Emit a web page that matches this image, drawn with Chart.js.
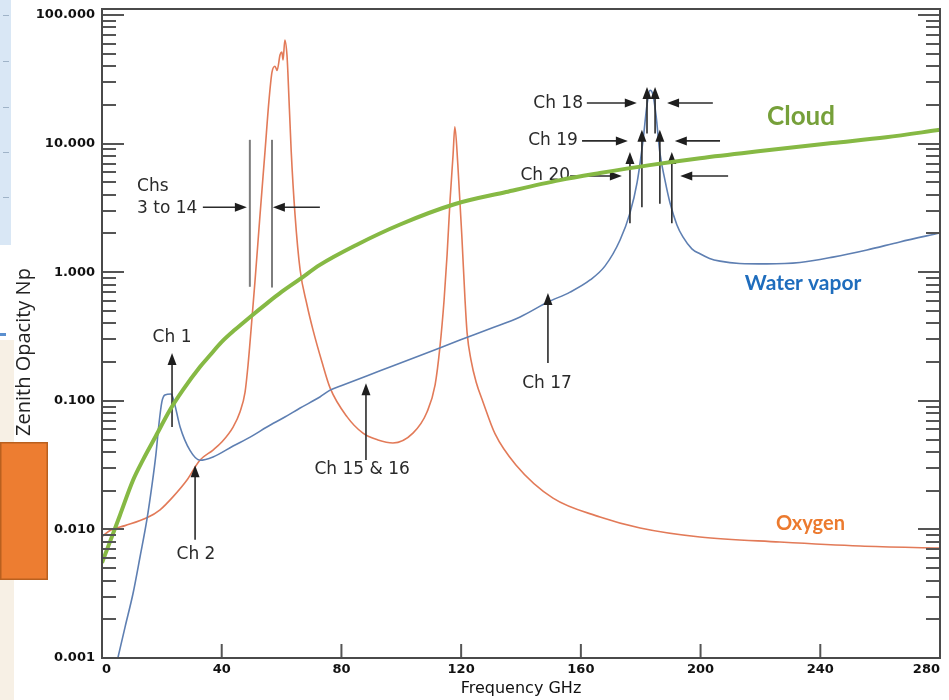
<!DOCTYPE html>
<html><head><meta charset="utf-8">
<script src="https://cdn.jsdelivr.net/npm/chart.js@4/dist/chart.umd.min.js"></script>
<style>html,body{margin:0;padding:0;background:#fff;}#wrap{width:949px;height:700px;}</style>
</head><body><div id="wrap"><canvas id="c" width="949" height="700"></canvas></div>
<script>
// ---------------- data (GHz, Np) ----------------
const oxygenFreq = [0,3,7.7,15,19.4,23.7,28.4,32.7,37.1,40.1,43.8,46.1,47.8,48.8,49.8,51.1,52.8,54.5,55.8,56.8,57.8,58.5,59.5,60.1,60.5,61.1,61.8,62.1,63.2,64.5,66.2,68.5,70.5,73.5,76.2,81.9,87.2,92.2,97.2,103.9,108.6,111.3,112.9,114.3,115.3,116.3,117.3,117.9,118.9,120.3,121.3,122,123.3,125,127.3,131.3,138.3,150.7,166.4,179.8,199.8,226.5,253.3,280];
const oxygenVal  = [0.0088,0.0099,0.0107,0.0123,0.0142,0.0179,0.0242,0.0345,0.0414,0.048,0.0625,0.0818,0.117,0.19,0.356,0.84,2.79,8.9,21.8,36,40,37,49,51.5,44.7,64,49,36,8.9,2.79,1.04,0.556,0.356,0.2,0.126,0.075,0.056,0.0496,0.047,0.056,0.0818,0.133,0.26,0.608,1.36,3.64,8.15,13.5,6.82,1.78,0.608,0.336,0.207,0.14,0.098,0.0555,0.0317,0.0175,0.0125,0.01026,0.00873,0.00798,0.00743,0.00716];

const vaporFreq = [5.3,7.7,10.4,12.7,15,16.7,18,19,20,21,23.1,24.1,26.1,29.4,32.7,37.1,43.8,49.5,55.1,61.1,66.2,72.8,76.2,79.9,92.9,106.3,119.6,129.6,139.7,149,156.4,163.1,168.1,173.1,176.4,178.8,180.8,182.1,183.1,184.1,185.1,186.4,188.1,189.8,192.1,194.1,197.1,199.8,203,206.5,213,222.2,233.2,244.2,255.6,266.6,280];
const vaporVal  = [0.001,0.00174,0.0032,0.0061,0.0119,0.0221,0.038,0.065,0.098,0.111,0.113,0.098,0.0625,0.0411,0.0345,0.0366,0.0445,0.0522,0.0625,0.0748,0.0879,0.107,0.121,0.131,0.171,0.225,0.297,0.364,0.449,0.586,0.70,0.87,1.12,1.78,2.88,5.0,10.7,20,26,23.9,16.7,8.5,5.2,3.45,2.33,1.88,1.52,1.39,1.28,1.22,1.17,1.16,1.19,1.31,1.49,1.72,2.02];

const cloudFreq = [0,3,6,10.4,13.7,18,22.7,27,32.7,36,40,44.5,49.5,55,60,66,72.8,85,99.6,118,135,153,166.4,183,199.8,220,244,262,280];
const cloudVal  = [0.0055,0.0084,0.0129,0.0242,0.0347,0.0532,0.0848,0.121,0.183,0.225,0.287,0.358,0.449,0.570,0.702,0.879,1.14,1.63,2.35,3.39,4.2,5.2,5.9,6.8,7.7,8.75,10.1,11.2,12.8];

// axis ticks
const xTickValues = [0,40,80,120,160,200,240,280];
const yDecades = [0.001,0.01,0.1,1,10,100];
const yTickLabels = ['0.001','0.010','0.100','1.000','10.000','100.000'];

// series labels
const seriesLabels = ['Cloud','Water vapor','Oxygen'];
const seriesLabelFreq = [222.2,214.8,225.2];
const seriesLabelVal = [16.1,0.824,0.0112];

// channel annotations
const chanText = ['Chs','3 to 14','Ch 1','Ch 2','Ch 15 & 16','Ch 17','Ch 18','Ch 19','Ch 20'];
const chanTextFreq = [11.7,11.7,23.4,31.4,86.9,148.7,160.7,159,156.4];
const chanTextVal = [4.6,3.15,0.31,0.0064,0.029,0.137,20.5,10.5,5.6];
const chanTextAlign = ['left','left','center','center','center','center','right','right','right'];

const vArrowFreq = [23.4,31.1,88.2,149,182.1,184.8,180.4,186.4,176.4,190.4];
const vArrowFrom = [0.0625,0.0083,0.0347,0.197,12,12,3.2,3.4,2.4,2.4];
const vArrowTo   = [0.235,0.0316,0.137,0.69,27.5,27.5,12.8,12.8,8.6,8.6];

const hArrowVal  = [3.2,3.2,20.7,20.7,10.5,10.5,5.6,5.6];
const hArrowFrom = [33.7,72.8,162,204.1,160.4,206.5,156.4,209.2];
const hArrowTo   = [48.4,57.1,178.7,188.8,175.7,191.4,173.7,193.2];

const bandFreq = [49.4,56.8];
const bandTop = [10.7,10.7];
const bandBottom = [0.77,0.76];

function pts(fs, vs){ return fs.map((f,i)=>({x:f,y:vs[i]})); }

function arrowHead(ctx, x, y, dx, dy){
  const L=12, W=4.5;
  ctx.beginPath();
  ctx.moveTo(x,y);
  ctx.lineTo(x - dx*L - dy*W, y - dy*L + dx*W);
  ctx.lineTo(x - dx*L + dy*W, y - dy*L - dx*W);
  ctx.closePath();
  ctx.fill();
}

const annotPlugin = {
  id:'annot',
  beforeDraw(chart){
    const ctx = chart.ctx;
    ctx.save();
    ctx.fillStyle='#d9e7f5'; ctx.fillRect(0,0,11,245);
    ctx.strokeStyle='#9fb3c8'; ctx.lineWidth=1;
    [15,61,107,152,197].forEach(y=>{ctx.beginPath();ctx.moveTo(3,y+0.5);ctx.lineTo(9,y+0.5);ctx.stroke();});
    ctx.fillStyle='#f7f0e5'; ctx.fillRect(0,340,14,360);
    ctx.fillStyle='#5b8fcf'; ctx.fillRect(0,333,6,3);
    ctx.restore();
  },
  afterDatasetDraw(chart, args){
    if(args.index!==1) return;
    const ctx=chart.ctx, xs=chart.scales.x, ys=chart.scales.y;
    ctx.save();
    ctx.strokeStyle='#7d7d7d'; ctx.lineWidth=2;
    bandFreq.forEach((f,i)=>{
      const x=xs.getPixelForValue(f);
      ctx.beginPath(); ctx.moveTo(x, ys.getPixelForValue(bandTop[i])); ctx.lineTo(x, ys.getPixelForValue(bandBottom[i])); ctx.stroke();
    });
    ctx.strokeStyle='#2b2b2b'; ctx.fillStyle='#1e1e1e'; ctx.lineWidth=1.6;
    vArrowFreq.forEach((f,i)=>{
      const x=xs.getPixelForValue(f), y0=ys.getPixelForValue(vArrowFrom[i]), y1=ys.getPixelForValue(vArrowTo[i]);
      ctx.beginPath(); ctx.moveTo(x,y0); ctx.lineTo(x,y1+6); ctx.stroke();
      arrowHead(ctx,x,y1,0,-1);
    });
    hArrowVal.forEach((v,i)=>{
      const y=ys.getPixelForValue(v), x0=xs.getPixelForValue(hArrowFrom[i]), x1=xs.getPixelForValue(hArrowTo[i]);
      const d = x1>x0?1:-1;
      ctx.beginPath(); ctx.moveTo(x0,y); ctx.lineTo(x1-d*6,y); ctx.stroke();
      arrowHead(ctx,x1,y,d,0);
    });
    ctx.fillStyle='#2a2a2a';
    ctx.font='17px "DejaVu Sans"';
    ctx.textBaseline='middle';
    chanText.forEach((t,i)=>{
      ctx.textAlign=chanTextAlign[i];
      ctx.fillText(t, xs.getPixelForValue(chanTextFreq[i]), ys.getPixelForValue(chanTextVal[i]));
    });
    ctx.restore();
  },
  afterDraw(chart){
    const ctx=chart.ctx, xs=chart.scales.x, ys=chart.scales.y, a=chart.chartArea;
    ctx.save();
    ctx.strokeStyle='#555'; ctx.lineWidth=2;
    for(let d=-3; d<=1; d++){
      for(let m=1; m<=9; m++){
        const v=m*Math.pow(10,d);
        const y=Math.round(ys.getPixelForValue(v));
        const len = m===1?22:14;
        ctx.beginPath(); ctx.moveTo(a.left,y); ctx.lineTo(a.left+len,y); ctx.stroke();
        ctx.beginPath(); ctx.moveTo(a.right,y); ctx.lineTo(a.right-len,y); ctx.stroke();
      }
    }
    const y100=ys.getPixelForValue(100);
    ctx.beginPath(); ctx.moveTo(a.left,y100); ctx.lineTo(a.left+22,y100); ctx.stroke();
    ctx.beginPath(); ctx.moveTo(a.right,y100); ctx.lineTo(a.right-22,y100); ctx.stroke();
    xTickValues.slice(1,-1).forEach(f=>{
      const x=xs.getPixelForValue(f);
      ctx.beginPath(); ctx.moveTo(x,a.bottom); ctx.lineTo(x,a.bottom-14); ctx.stroke();
    });
    ctx.strokeStyle='#4a4a4a'; ctx.lineWidth=2;
    ctx.strokeRect(a.left,a.top,a.right-a.left,a.bottom-a.top);
    ctx.textAlign='left'; ctx.textBaseline='middle';
    const lc=['#76a03a','#1f6dbd','#ec7a2e'];
    const lf=['bold 26px Lato','bold 21px Lato','bold 20px Lato'];
    seriesLabels.forEach((t,i)=>{
      ctx.font=lf[i]; ctx.fillStyle=lc[i];
      ctx.fillText(t, xs.getPixelForValue(seriesLabelFreq[i]), ys.getPixelForValue(seriesLabelVal[i]));
    });
    ctx.save();
    ctx.translate(24,352); ctx.rotate(-Math.PI/2);
    ctx.font='20px "Open Sans"'; ctx.fillStyle='#222'; ctx.textAlign='center'; ctx.textBaseline='middle';
    ctx.fillText('Zenith Opacity Np',0,0);
    ctx.restore();
    ctx.fillStyle='#ed7d31'; ctx.fillRect(0,442,48,138);
    ctx.strokeStyle='#b9601f'; ctx.lineWidth=1.5; ctx.strokeRect(0.75,442.75,46.5,136.5);
    ctx.restore();
  }
};

new Chart(document.getElementById('c'), {
  type:'line',
  data:{ datasets:[
    {label:'Cloud', data:pts(cloudFreq,cloudVal), borderColor:'#86b944', borderWidth:4, pointRadius:0, cubicInterpolationMode:'monotone', fill:false},
    {label:'Water vapor', data:pts(vaporFreq,vaporVal), borderColor:'#5e7fb2', borderWidth:1.6, pointRadius:0, cubicInterpolationMode:'monotone', fill:false},
    {label:'Oxygen', data:pts(oxygenFreq,oxygenVal), borderColor:'#e27a58', borderWidth:1.6, pointRadius:0, cubicInterpolationMode:'monotone', fill:false}
  ]},
  options:{
    responsive:false, animation:false, devicePixelRatio:1,
    layout:{padding:{left:0,right:9,top:9,bottom:0}},
    plugins:{legend:{display:false}, tooltip:{enabled:false}},
    scales:{
      x:{ type:'linear', min:0, max:280,
        grid:{display:false, drawTicks:false}, border:{display:false},
        ticks:{ stepSize:40, padding:4, align:'inner', color:'#111', font:{family:'DejaVu Sans', size:13, weight:'bold'}, maxRotation:0, autoSkip:false},
        title:{display:true, text:'Frequency GHz', color:'#111', font:{family:'DejaVu Sans', size:16}, padding:{top:0,bottom:2}},
        afterFit(s){ s.height=42; s.paddingLeft=0; s.paddingRight=0; }
      },
      y:{ type:'logarithmic', min:0.001, max:Math.pow(10,2+6/128.6),
        grid:{display:false, drawTicks:false}, border:{display:false},
        ticks:{ autoSkip:false, padding:7, color:'#111', font:{family:'DejaVu Sans', size:13, weight:'bold'},
          callback(v){ const k=yDecades.findIndex(d=>Math.abs(d-v)/d<1e-6); return k>=0?yTickLabels[k]:''; } },
        afterFit(s){ s.width=102; s.paddingTop=0; s.paddingBottom=0; }
      }
    }
  },
  plugins:[annotPlugin]
});
</script></body></html>
